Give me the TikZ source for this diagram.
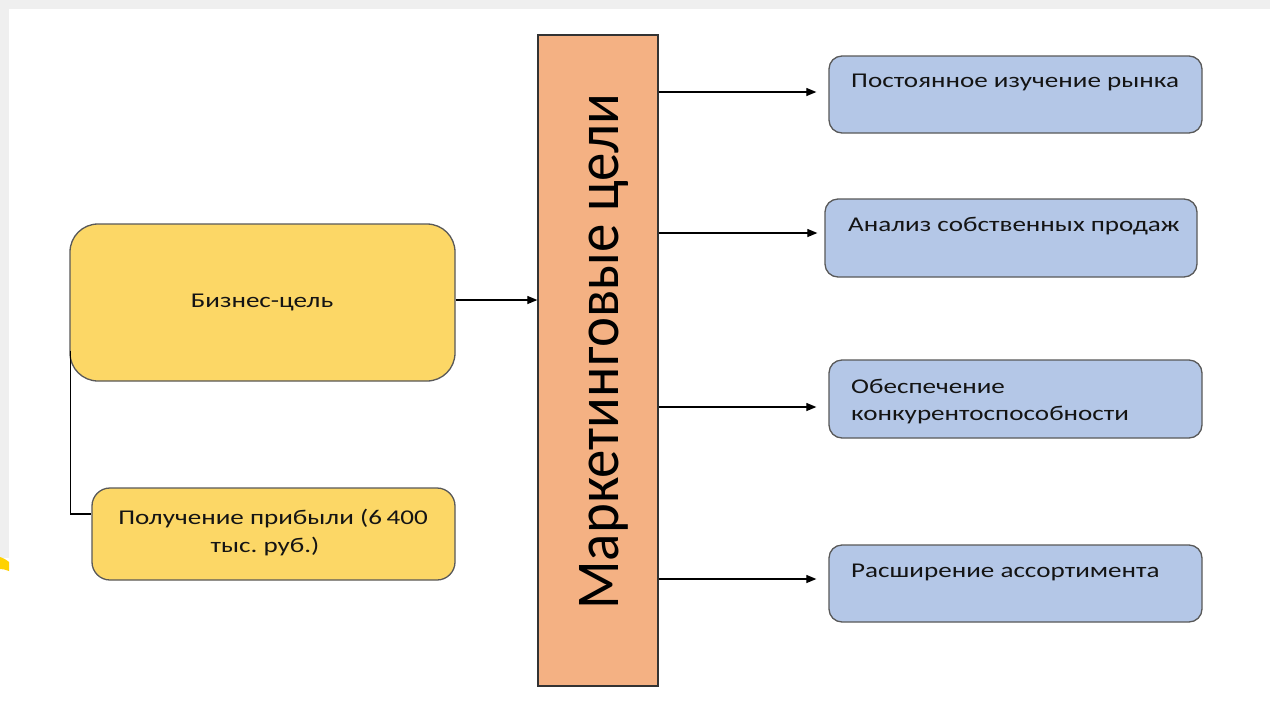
\documentclass[tikz,border=0pt]{standalone}
\usepackage{fontspec}
\setmainfont{Carlito}
\usetikzlibrary{arrows.meta,calc}
\definecolor{bandgray}{HTML}{EFEFEF}
\definecolor{bizyellow}{HTML}{FCD766}
\definecolor{mkorange}{HTML}{F4B183}
\definecolor{goalblue}{HTML}{B4C7E7}
\definecolor{edgegray}{HTML}{595959}
\definecolor{markyellow}{HTML}{FFD200}
\newcommand\hx[1]{\scalebox{1.29}[1]{#1}}
\frenchspacing
\begin{document}
\begin{tikzpicture}[x=1pt,y=-1pt,
  boxbase/.style={draw=edgegray, line width=1.3pt, inner sep=0pt},
  bizbox/.style={boxbase, fill=bizyellow},
  goalbox/.style={boxbase, fill=goalblue, rounded corners=13pt, minimum width=373pt, minimum height=77pt},
  txt/.style={inner sep=0pt, font=\fontsize{21}{25}\selectfont, text=black!92},
  conn/.style={line width=1.2pt, draw=black},
  arr/.style={conn, -{Triangle[length=10pt,width=8pt]}, shorten >=12pt}
]
\useasboundingbox (0,0) rectangle (1270,705);
\fill[white] (0,0) rectangle (1270,705);
\fill[bandgray] (0,0) rectangle (1270,9);
\fill[bandgray] (0,0) rectangle (9,558);
\fill[markyellow] (0,557) to[bend left=10] (9,562) -- (9,571) to[bend right=10] (0,569) -- cycle;

% boxes
\node[bizbox, rounded corners=28pt, minimum width=385pt, minimum height=157pt] (biz) at (262.5,302.5) {};
\node[bizbox, rounded corners=18pt, minimum width=363pt, minimum height=92pt] (prof) at (273.5,534) {};
\node[boxbase, draw=black!80, fill=mkorange, minimum width=120pt, minimum height=651pt] (mk) at (598,360.5) {};
\node[goalbox] (g1) at (1015.5,94.5) {};
\node[goalbox, minimum width=372pt, minimum height=78pt] (g2) at (1011,238) {};
\node[goalbox, minimum height=78pt] (g3) at (1015.5,399) {};
\node[goalbox] (g4) at (1015.5,583.5) {};

% texts
\node[txt, anchor=base] (tbiz) at (262,307) {\hx{Бизнес-цель}};
\node[txt, anchor=base] (tprof1) at (273,524) {\hx{Получение прибыли (6\,400}};
\node[txt, anchor=base] (tprof2) at (265,552) {\hx{тыс. руб.)}};
\node[rotate=90, anchor=base, inner sep=0pt, text=black] (tmk) at (618,352)
  {\resizebox{515pt}{39pt}{Маркетинговые цели}};
\node[txt, anchor=base west] (tg1) at (851,87) {\hx{Постоянное изучение рынка}};
\node[txt, anchor=base west] (tg2) at (848,231) {\hx{Анализ собственных продаж}};
\node[txt, anchor=base west] (tg3a) at (851,393) {\hx{Обеспечение}};
\node[txt, anchor=base west] (tg3b) at (851,420) {\hx{конкурентоспособности}};
\node[txt, anchor=base west] (tg4) at (851,577) {\hx{Расширение ассортимента}};

% connectors
\coordinate (pj) at ($(prof.west)+(0,-20)$);
\draw[conn] ($(biz.west)+(1,48)$) |- (pj);
\draw[arr, shorten >=0pt] (biz.east |- 0,300) -- (mk.west |- 0,300);
\draw[arr] (mk.east |- 0,92) -- (g1.west |- 0,92);
\draw[arr, shorten >=7pt] (mk.east |- 0,233) -- (g2.west |- 0,233);
\draw[arr] (mk.east |- 0,407) -- (g3.west |- 0,407);
\draw[arr] (mk.east |- 0,579) -- (g4.west |- 0,579);
\end{tikzpicture}
\end{document}
